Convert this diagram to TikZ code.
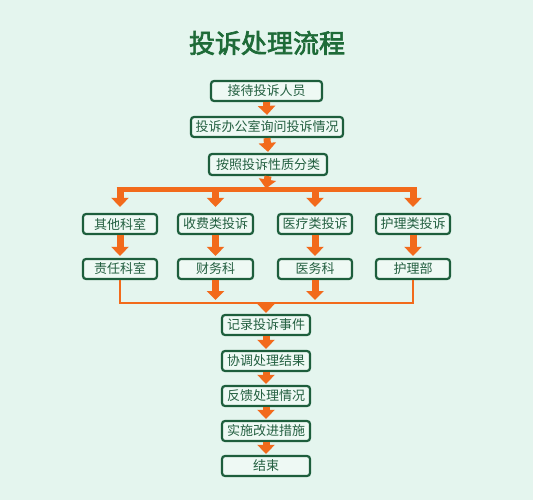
\documentclass[tikz,border=0pt]{standalone}
\usepackage{fontspec}
\newfontfamily\cjk{Noto Sans CJK SC}
\newfontfamily\cjkb{Noto Sans CJK SC}[FakeBold=2.5]
\usetikzlibrary{arrows.meta}
\definecolor{bgc}{HTML}{E4F5EE}
\definecolor{boxfill}{HTML}{EEF9F4}
\definecolor{dgreen}{HTML}{1D5E3C}
\definecolor{tgreen}{HTML}{235F40}
\definecolor{ttl}{HTML}{1E6B38}
\definecolor{org}{HTML}{F26A1B}
\tikzset{
  box/.style={draw=dgreen, line width=2.2pt, fill=boxfill, rounded corners=3pt,
    minimum height=20pt, inner sep=0pt, text=tgreen,
    font=\cjk\fontsize{13}{15}\selectfont},
  blk/.style={draw=org, line width=7pt, -{Triangle[width=17pt,length=9pt]}},
  thin/.style={draw=org, line width=2pt},
  bar/.style={draw=org, line width=4.5pt},
}
\begin{document}
\begin{tikzpicture}[x=1pt,y=-1pt]
\fill[bgc] (0,0) rectangle (533,500);
\useasboundingbox (0,0) rectangle (533,500);
\node[text=ttl, font=\cjkb\fontsize{26}{30}\selectfont] (title) at (267,43) {投诉处理流程};
\node[box, minimum width=111pt] (a1) at (266.5,91) {接待投诉人员};
\node[box, minimum width=152pt] (a2) at (267,127) {投诉办公室询问投诉情况};
\node[box, minimum width=118pt, minimum height=21pt] (a3) at (268,164.5) {按照投诉性质分类};
\draw[blk] (a1.south) -- ([yshift=1pt]a2.north);
\draw[blk] (a2.south) -- ([yshift=1pt]a3.north);
% distribution bar
\coordinate (h1) at (120,189.5);
\coordinate (h2) at (215.5,189.5);
\coordinate (h3) at (315,189.5);
\coordinate (h4) at (413,189.5);
\coordinate (hm) at (266,189.5);
\draw[bar] ([xshift=-3.5pt]h1) -- ([xshift=3.5pt]h4);
\draw[blk] (a3.south) -- ([yshift=1pt]hm);
% row 1
\node[box, minimum width=74pt] (c1) at (120,224) {其他科室};
\node[box, minimum width=75pt] (c2) at (215.5,224) {收费类投诉};
\node[box, minimum width=74pt] (c3) at (315,224) {医疗类投诉};
\node[box, minimum width=74pt] (c4) at (413,224) {护理类投诉};
\foreach \i in {1,2,3,4}{\draw[blk] (h\i) -- ([yshift=6pt]c\i.north);}
% row 2
\node[box, minimum width=74pt] (d1) at (120,269) {责任科室};
\node[box, minimum width=75pt] (d2) at (215.5,269) {财务科};
\node[box, minimum width=74pt] (d3) at (315,269) {医务科};
\node[box, minimum width=74pt] (d4) at (413,269) {护理部};
\foreach \i in {1,2,3,4}{\draw[blk] (c\i.south) -- ([yshift=2pt]d\i.north);}
% collection line
\coordinate (g1) at (120,303);
\coordinate (g2) at (215.5,303);
\coordinate (g3) at (315,303);
\coordinate (g4) at (413,303);
\coordinate (gm) at (266,303);
\draw[thin] (d1.south) -- (g1) -- (g4) -- (d4.south);
\draw[blk] (d2.south) -- ([yshift=3pt]g2);
\draw[blk] (d3.south) -- ([yshift=3pt]g3);
% bottom column
\node[box, minimum width=88pt] (e1) at (266,325) {记录投诉事件};
\node[box, minimum width=88pt] (e2) at (266,361) {协调处理结果};
\node[box, minimum width=88pt] (e3) at (266,396) {反馈处理情况};
\node[box, minimum width=88pt] (e4) at (266,431) {实施改进措施};
\node[box, minimum width=88pt] (e5) at (266,466) {结束};
\draw[blk] (gm) -- ([yshift=1pt]e1.north);
\draw[blk] (e1.south) -- ([yshift=1pt]e2.north);
\draw[blk] (e2.south) -- ([yshift=1pt]e3.north);
\draw[blk] (e3.south) -- ([yshift=1pt]e4.north);
\draw[blk] (e4.south) -- ([yshift=1pt]e5.north);
\end{tikzpicture}
\end{document}
